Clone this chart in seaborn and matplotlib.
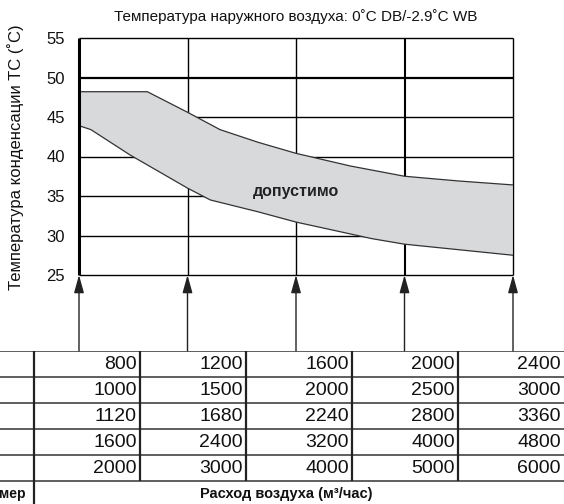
import numpy as np
import pandas as pd
import seaborn as sns
import matplotlib.pyplot as plt

sns.set_theme(style="white")
plt.rcParams["font.family"] = ["Liberation Sans", "DejaVu Sans"]

# ---- data -------------------------------------------------------------
title = "Температура наружного воздуха: 0˚C DB/-2.9˚C WB"
y_label = "Температура конденсации TC (˚C)"
region_label = "допустимо"
size_label = "Типоразмер"
flow_label = "Расход воздуха (м³/час)"

temp_ticks = [25, 30, 35, 40, 45, 50, 55]
flow_positions = [0, 1, 2, 3, 4]

# air flow per model size (one row per size, one column per grid line)
flow_row1 = [800, 1200, 1600, 2000, 2400]
flow_row2 = [1000, 1500, 2000, 2500, 3000]
flow_row3 = [1120, 1680, 2240, 2800, 3360]
flow_row4 = [1600, 2400, 3200, 4000, 4800]
flow_row5 = [2000, 3000, 4000, 5000, 6000]
flow_rows = [flow_row1, flow_row2, flow_row3, flow_row4, flow_row5]

# permitted operating band: upper and lower condensing temperature limits
upper_x = [0.0, 0.63, 1.0, 1.30, 1.65, 2.0, 2.5, 3.0, 3.5, 4.0]
upper_t = [48.2, 48.2, 45.6, 43.4, 41.8, 40.4, 38.8, 37.5, 36.9, 36.4]
lower_x = [0.0, 0.11, 0.47, 1.0, 1.21, 1.65, 2.0, 2.7, 3.0, 4.0]
lower_t = [43.9, 43.4, 40.2, 36.0, 34.5, 33.0, 31.7, 29.6, 28.9, 27.5]

# ---- figure -----------------------------------------------------------
W, H = 564, 504
fig = plt.figure(figsize=(W / 100, H / 100), dpi=100)
fig.patch.set_facecolor("white")

ax_left, ax_right, ax_top, ax_bottom = 79, 513, 38, 351
ax = fig.add_axes([ax_left / W, 1 - ax_bottom / H,
                   (ax_right - ax_left) / W, (ax_bottom - ax_top) / H])
px_per_deg = (275 - 38) / 30.0
y_min = 25 - (ax_bottom - 275) / px_per_deg
ax.set_xlim(0, 4)
ax.set_ylim(y_min, 55)
for s in ax.spines.values():
    s.set_visible(False)
ax.set_facecolor("none")

# grid
for t in temp_ticks:
    ax.hlines(t, 0, 4, color="black", lw=1.6 if t == 50 else 1.0,
              zorder=1, clip_on=False)
for x in flow_positions[1:]:
    ax.vlines(x, 25, 55, color="black", lw=1.5 if x == 3 else 1.0,
              zorder=1, clip_on=False)

# shaded band (covers the grid)
band_x = upper_x + lower_x[::-1]
band_t = upper_t + lower_t[::-1]
ax.fill(band_x, band_t, color="#d8d9db", zorder=2, lw=0)
band_df = pd.DataFrame({"x": upper_x, "t": upper_t})
sns.lineplot(data=band_df, x="x", y="t", ax=ax, sort=False,
             color="#333333", lw=0.9, zorder=3)
band_df2 = pd.DataFrame({"x": lower_x, "t": lower_t})
sns.lineplot(data=band_df2, x="x", y="t", ax=ax, sort=False,
             color="#333333", lw=0.9, zorder=3)
ax.plot([upper_x[-1], lower_x[-1]], [upper_t[-1], lower_t[-1]],
        color="#666666", lw=0.9, zorder=3)

ax.vlines(0, 25, 55, color="black", lw=2.2, zorder=4, clip_on=False)

# arrows from the table up to the chart
for x in flow_positions:
    ax.annotate("", xy=(x, 25), xytext=(x, y_min),
                arrowprops=dict(arrowstyle="-|>,head_length=0.9,head_width=0.25",
                                color="#222222", lw=1.0,
                                shrinkA=0, shrinkB=0),
                annotation_clip=False, zorder=4)

ax.set_xticks([])
ax.set_yticks(temp_ticks)
ax.tick_params(axis="y", length=0, pad=10, labelsize=12, colors="#111111")
ax.set_xlabel("")
ax.set_ylabel("")

fig.text(296 / W, 1 - 17 / H, title, ha="center", va="center",
         fontsize=11, color="#111111")
fig.text(16 / W, 1 - 157 / H, y_label, ha="center", va="center",
         rotation=90, fontsize=12, color="#111111")
ax.text(2.0, 35.6, region_label, ha="center", va="center",
        fontsize=11.5, fontweight="bold", color="#222222", zorder=5)

# ---- table ------------------------------------------------------------
tax = fig.add_axes([0, 0, 1, 1 - ax_bottom / H])
tax.set_xlim(0, W)
tax.set_ylim(H, ax_bottom)
tax.axis("off")

row_edges = [351, 377, 403, 429, 455, 481]
col_edges = [34, 140, 246, 352, 458, 564]
for yy in row_edges:
    tax.hlines(yy, 0, W, color="#333333", lw=1.1)
tax.vlines(col_edges[0], row_edges[0], H, color="#222222", lw=1.6)
for xx in col_edges[1:-1]:
    tax.vlines(xx, row_edges[0], row_edges[-1], color="#222222", lw=1.6)

for r, row in enumerate(flow_rows):
    yc = (row_edges[r] + row_edges[r + 1]) / 2 + 0.5
    for c, v in enumerate(row):
        tax.text(col_edges[c + 1] - 3, yc, str(v), ha="right",
                 va="center", fontsize=14, color="#111111")

tax.text(26, 494, size_label, ha="right", va="center", fontsize=10,
         fontweight="bold", color="#111111")
tax.text(286, 494, flow_label, ha="center", va="center", fontsize=10.5,
         fontweight="bold", color="#111111")

fig.savefig("out.png", dpi=100, facecolor="white")
